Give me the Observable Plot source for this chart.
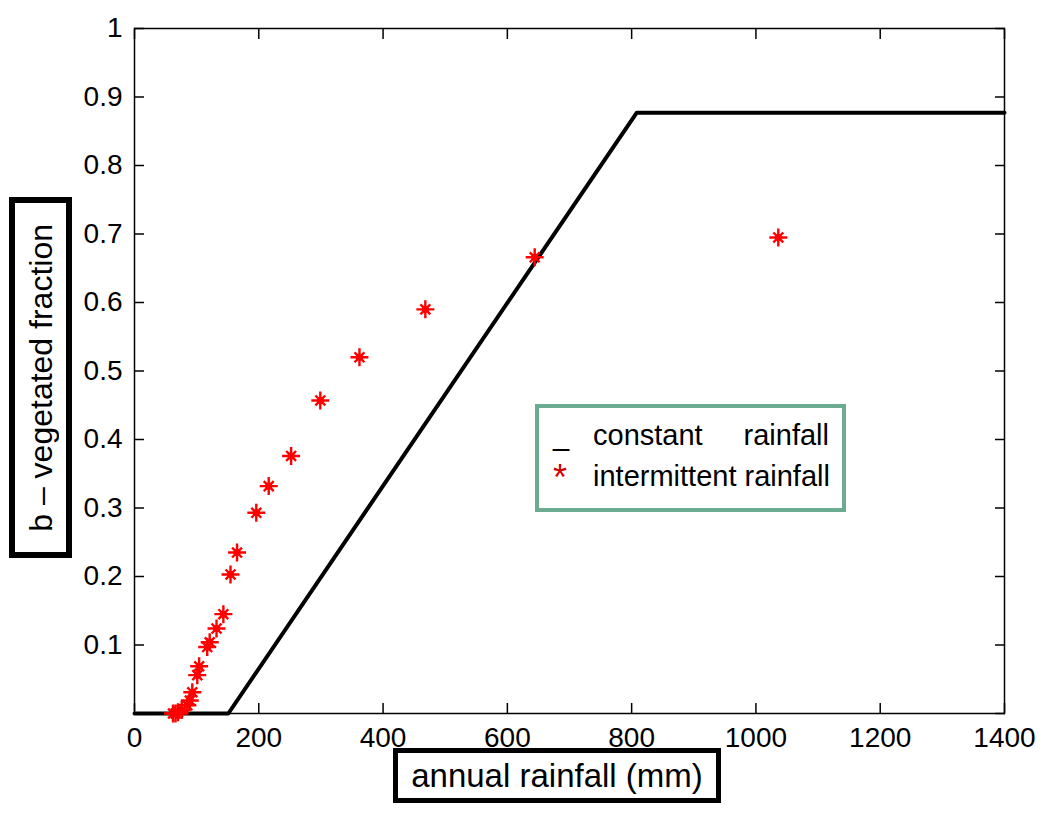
<!DOCTYPE html>
<html><head><meta charset="utf-8">
<script src="https://cdn.jsdelivr.net/npm/d3@7"></script>
<script src="https://cdn.jsdelivr.net/npm/@observablehq/plot@0.6"></script>
<style>
body{margin:0;background:#fff;}
#wrap{position:relative;width:1050px;height:815px;font-family:"Liberation Sans",Arial,sans-serif;color:#000;}
#wrap svg{position:absolute;left:0;top:0;}
.ov{position:absolute;white-space:nowrap;line-height:1;}
#ylab{left:9px;top:197px;width:63px;height:361px;box-sizing:border-box;border:6px solid #000;background:#fff;display:flex;align-items:center;justify-content:center;}
#ylab span{writing-mode:vertical-rl;transform:rotate(180deg);font-size:32px;line-height:1;white-space:nowrap;}
#xlab{left:393px;top:748px;width:328px;height:55px;box-sizing:border-box;border:5px solid #000;background:#fff;display:flex;align-items:center;justify-content:center;font-size:33px;}
#legend{left:535px;top:404px;width:311px;height:108px;box-sizing:border-box;border:4px solid #6aab92;background:#fff;}
.lt{font-size:29px;}
</style></head><body><div id="wrap"></div>
<script>
// constant rainfall model curve
const constRain = [0, 151, 808, 1400];
const constB = [0, 0, 0.877, 0.877];
// intermittent rainfall simulations
const intRain = [62, 66, 70, 76, 85, 89, 93, 101, 104, 117, 121, 132, 143, 154.5, 165, 196, 216, 252, 299, 362, 468, 644, 1036];
const intB = [0, 0, 0.002, 0.005, 0.012, 0.019, 0.031, 0.056, 0.069, 0.097, 0.104, 0.124, 0.145, 0.203, 0.235, 0.293, 0.332, 0.376, 0.457, 0.520, 0.590, 0.666, 0.695];
// ticks
const xTicks = [0, 200, 400, 600, 800, 1000, 1200, 1400];
const xTickLabels = ["0", "200", "400", "600", "800", "1000", "1200", "1400"];
const yTicks = [0, 0.1, 0.2, 0.3, 0.4, 0.5, 0.6, 0.7, 0.8, 0.9, 1];
const yTickLabels = ["", "0.1", "0.2", "0.3", "0.4", "0.5", "0.6", "0.7", "0.8", "0.9", "1"];
// texts
const xTitle = "annual rainfall (mm)";
const yTitle = "b \u2013 vegetated fraction";
const legendItems = [["_", "constant", "rainfall"], ["*", "intermittent rainfall", ""]];

const lineData = constRain.map((x, i) => ({x, b: constB[i]}));
const starData = intRain.map((x, i) => ({x, b: intB[i]}));
const xFmt = new Map(xTicks.map((t, i) => [t, xTickLabels[i]]));
const yFmt = new Map(yTicks.map((t, i) => [t, yTickLabels[i]]));

const matlabStar = {
  draw(ctx, size) {
    const r = Math.sqrt(size / Math.PI);
    const d = r * 0.55;
    ctx.moveTo(-r, 0); ctx.lineTo(r, 0);
    ctx.moveTo(0, -r); ctx.lineTo(0, r);
    ctx.moveTo(-d, -d); ctx.lineTo(d, d);
    ctx.moveTo(-d, d); ctx.lineTo(d, -d);
  }
};

const chart = Plot.plot({
  width: 1050,
  height: 815,
  marginLeft: 134,
  marginRight: 46,
  marginTop: 28,
  marginBottom: 102,
  style: {fontSize: "28px", fontFamily: "'Liberation Sans', Arial, sans-serif", color: "#000", background: "transparent"},
  x: {domain: [0, 1400], label: null},
  y: {domain: [0, 1], label: null},
  axis: null,
  marks: [
    Plot.frame({stroke: "#000", strokeWidth: 1.5}),
    // tick labels
    Plot.axisX({anchor: "bottom", ticks: xTicks, tickSize: 0, tickPadding: 14, tickFormat: d => xFmt.get(d), label: null}),
    Plot.axisY({anchor: "left", ticks: yTicks, tickSize: 0, tickPadding: 12, tickFormat: d => yFmt.get(d), label: null}),
    // inward tick marks on all four sides
    Plot.axisX({anchor: "bottom", ticks: xTicks, tickSize: 10, dy: -10, fill: "none", label: null, strokeWidth: 1.5}),
    Plot.axisX({anchor: "top", ticks: xTicks, tickSize: 10, dy: 10, fill: "none", label: null, strokeWidth: 1.5}),
    Plot.axisY({anchor: "left", ticks: yTicks, tickSize: 10, dx: 10, fill: "none", label: null, strokeWidth: 1.5}),
    Plot.axisY({anchor: "right", ticks: yTicks, tickSize: 10, dx: -10, fill: "none", label: null, strokeWidth: 1.5}),
    // constant rainfall line
    Plot.line(lineData, {x: "x", y: "b", stroke: "#000", strokeWidth: 4}),
    // intermittent rainfall stars
    Plot.dot(starData, {x: "x", y: "b", symbol: matlabStar, r: 9, stroke: "#ff0000", strokeWidth: 2.4, fill: "none"}),
    Plot.dot(starData, {x: "x", y: "b", r: 3.5, fill: "#ff0000", stroke: "none"})
  ]
});

const wrap = document.getElementById("wrap");
wrap.appendChild(chart);

const ylab = document.createElement("div");
ylab.id = "ylab"; ylab.className = "ov";
ylab.innerHTML = `<span>${yTitle}</span>`;
wrap.appendChild(ylab);

const xlab = document.createElement("div");
xlab.id = "xlab"; xlab.className = "ov";
xlab.textContent = xTitle;
wrap.appendChild(xlab);

const legend = document.createElement("div");
legend.id = "legend"; legend.className = "ov";
wrap.appendChild(legend);

function addText(txt, left, top, color, extra) {
  const s = document.createElement("div");
  s.className = "ov lt";
  s.textContent = txt;
  s.style.left = left + "px";
  s.style.top = top + "px";
  s.style.color = color || "#000";
  if (extra) Object.assign(s.style, extra);
  wrap.appendChild(s);
  return s;
}
// row 1: constant rainfall (justified)
addText(legendItems[0][0], 553, 420.5);
addText(legendItems[0][1], 593, 420.5);
addText(legendItems[0][2], null, 420.5, "#000", {left: "auto", right: (1050 - 829) + "px"});
// row 2: intermittent rainfall
addText(legendItems[1][0], 553, 460, "#d00000", {fontSize: "36px"});
addText(legendItems[1][1], 593, 461.5);
</script>
</body></html>
